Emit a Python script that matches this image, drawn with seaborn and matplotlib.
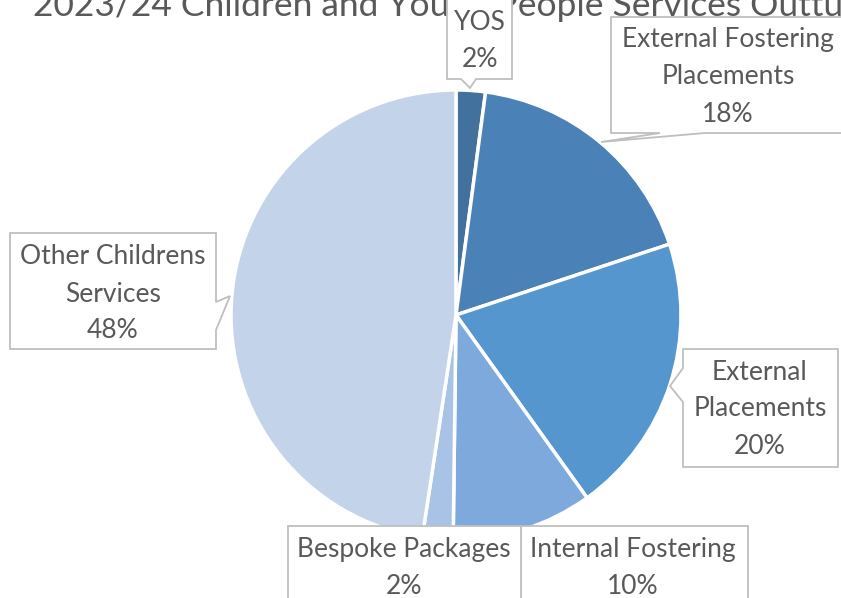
import numpy as np
import pandas as pd
import seaborn as sns
import matplotlib.pyplot as plt
from matplotlib.patches import Polygon

# Outturn shares (percent)
categories = ['YOS', 'External Fostering Placements', 'External Placements',
              'Internal Fostering', 'Bespoke Packages', 'Other Childrens Services']
shares = [2.1, 17.8, 20.2, 10.1, 2.2, 47.6]
label_text = ['YOS', 'External Fostering\nPlacements', 'External\nPlacements',
              'Internal Fostering', 'Bespoke Packages', 'Other Childrens\nServices']
slice_colors = ['#41719C', '#4A82B8', '#5596CE', '#7DA9DC', '#A9C3E6', '#C3D3EA']
title = '2023/24 Children and Young People Services Outturn'

sns.set_style('white')
plt.rcParams['font.family'] = ['Lato', 'DejaVu Sans']

W, H = 841, 598
fig = plt.figure(figsize=(W / 100, H / 100), dpi=100)
ax = fig.add_axes([0, 0, 1, 1])

df = pd.DataFrame({'category': categories, 'share': shares})

ax.pie(df['share'], colors=slice_colors, startangle=90, counterclock=False,
       center=(456, H - 315), radius=225,
       wedgeprops=dict(edgecolor='white', linewidth=2.5))

# callout boxes, pixel coords from top-left: outline vertices + text anchor
callouts = [
    ([(447, -5), (512, -5), (512, 79), (476, 79), (470, 88), (461, 79), (447, 79)], (480, 41)),
    ([(611, 17), (850, 17), (850, 133), (705, 133), (601, 142), (660, 133), (611, 133)], (728, 77)),
    ([(683, 349), (838, 349), (838, 467), (683, 467), (683, 402), (670, 386), (683, 368)], (760, 409)),
    ([(521, 526), (748, 526), (748, 610), (521, 610)], (633, 568)),
    ([(288, 526), (521, 526), (521, 610), (288, 610)], (404, 568)),
    ([(10, 233), (216, 233), (216, 302), (230, 296), (216, 330), (216, 349), (10, 349)], (113, 294)),
]

for (verts, (tx, ty)), lab, pct in zip(callouts, label_text, df['share']):
    pts = [(x, H - y) for x, y in verts]
    ax.add_patch(Polygon(pts, closed=True, facecolor='white', edgecolor='#BFBFBF',
                         linewidth=1.3, zorder=3))
    ax.text(tx, H - ty, f'{lab}\n{pct:.0f}%', ha='center', va='center',
            fontsize=19, color='#595959', linespacing=1.6, zorder=4)

# title sits behind the callouts, cut off at the top edge like the original
ax.text(33, H - 16, title, ha='left', va='baseline', fontsize=25.5,
        color='#595959', zorder=1)

ax.set_xlim(0, W)
ax.set_ylim(0, H)
ax.axis('off')

plt.savefig('out.png', dpi=100)
